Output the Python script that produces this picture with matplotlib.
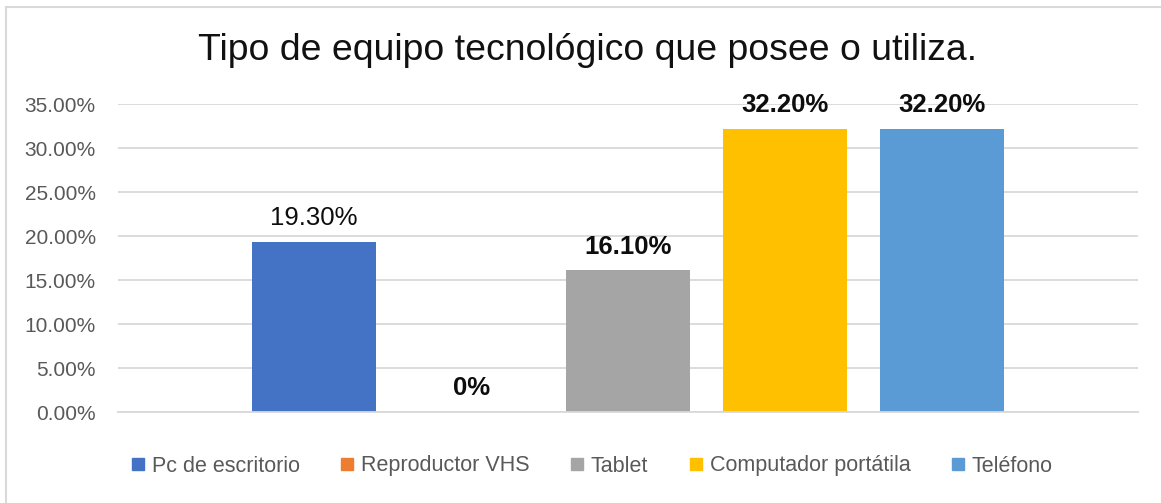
import matplotlib
matplotlib.use("Agg")
import matplotlib.pyplot as plt
from matplotlib.lines import Line2D
from matplotlib.ticker import FuncFormatter

# chart data
series = ["Pc de escritorio", "Reproductor VHS", "Tablet", "Computador portátila", "Teléfono"]
values = [0.193, 0.0, 0.161, 0.322, 0.322]
labels = ["19.30%", "0%", "16.10%", "32.20%", "32.20%"]
label_bold = [False, True, True, True, True]
colors = ["#4472C4", "#ED7D31", "#A5A5A5", "#FFC000", "#5B9BD5"]
yticks = [0, 0.05, 0.10, 0.15, 0.20, 0.25, 0.30, 0.35]

plt.rcParams['font.family'] = ['Liberation Sans', 'DejaVu Sans']

W, H = 1161, 503
fig = plt.figure(figsize=(W / 100, H / 100), dpi=100)
ax = fig.add_axes([118 / W, (H - 412) / H, 1020 / W, 308 / H])

pos = [i - 2 for i in range(len(values))]
ax.bar(pos, values, width=0.79, color=colors, zorder=2)

for x, v, lab, b in zip(pos, values, labels, label_bold):
    ax.annotate(lab, (x, v), xytext=(0, 12), textcoords="offset points",
                ha="center", va="baseline", fontsize=18.5,
                fontweight="bold" if b else "normal", color="#0d0d0d")

ax.set_xlim(-3.25, 3.25)
ax.set_ylim(0, 0.35)
ax.set_yticks(yticks)
ax.yaxis.set_major_formatter(FuncFormatter(lambda v, p: "{:.2%}".format(v)))
ax.set_xticks([])
ax.tick_params(axis="y", length=0, pad=16, labelsize=15, labelcolor="#595959")
ax.grid(axis="y", color="#d9d9d9", lw=1.3, zorder=0)
for s in ["top", "right", "left"]:
    ax.spines[s].set_visible(False)
ax.spines["bottom"].set_color("#d9d9d9")
ax.spines["bottom"].set_linewidth(1.3)

fig.text(588 / W, (H - 60) / H, "Tipo de equipo tecnológico que posee o utiliza.",
         ha="center", va="baseline", fontsize=26.9, color="#111111")

handles = [Line2D([], [], marker="s", linestyle="none", markersize=8.6,
                  markerfacecolor=c, markeredgecolor=c) for c in colors]
fig.legend(handles, series, loc="center", bbox_to_anchor=(592 / W, (H - 466) / H),
           ncol=5, frameon=False, fontsize=15.5, labelcolor="#595959",
           handlelength=0.6, handletextpad=0.35, columnspacing=1.9)

# chart border (only left and top edges visible)
fig.add_artist(Line2D([6 / W, 6 / W], [0, (H - 7) / H], color="#d9d9d9", lw=1.5))
fig.add_artist(Line2D([6 / W, 1], [(H - 7) / H, (H - 7) / H], color="#d9d9d9", lw=1.5))

fig.savefig("out.png", dpi=100)
